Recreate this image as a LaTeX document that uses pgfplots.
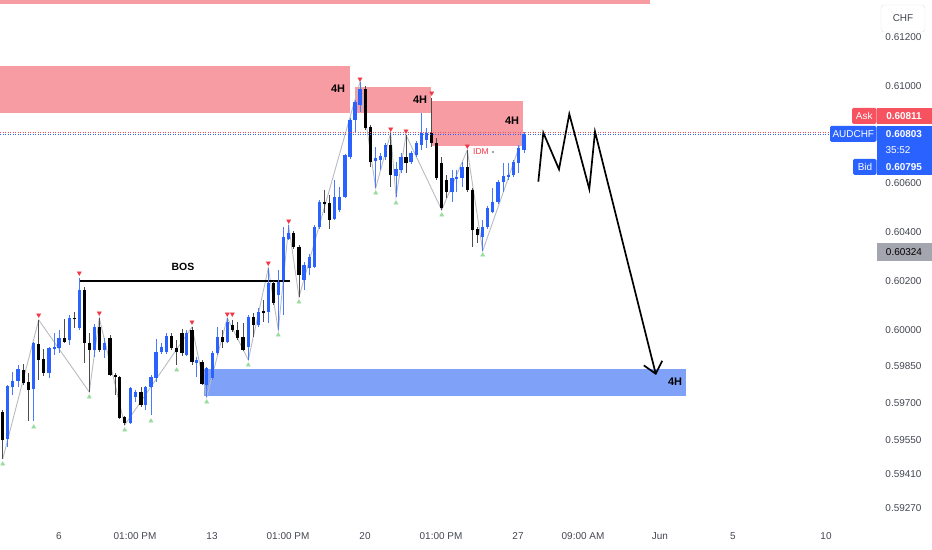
\documentclass[border=0pt]{standalone}
\usepackage{fontspec}
\setmainfont{Liberation Sans}
\usepackage{pgfplots}
\pgfplotsset{compat=1.18}
\usepackage{pgfplotstable}
\usetikzlibrary{arrows.meta}
\definecolor{cblue}{HTML}{2962FF}
\definecolor{cbear}{HTML}{000000}
\definecolor{zonered}{HTML}{F69CA2}
\definecolor{zoneblue}{HTML}{7FA2F8}
\definecolor{askred}{HTML}{F7525F}
\definecolor{grayline}{HTML}{B8BBC2}
\definecolor{mkred}{HTML}{F23645}
\definecolor{mkgreen}{HTML}{9ADB9E}
\definecolor{tickc}{HTML}{434651}
\definecolor{lowgray}{HTML}{A3A6AF}
\definecolor{boxborder}{HTML}{E0E3EB}

\pgfplotstableread{
x o h l c
7.7 0.595527 0.597741 0.595199 0.597700
12.3 0.597659 0.598274 0.597331 0.597905
18.0 0.597905 0.598561 0.597659 0.598397
33.7 0.597577 0.599504 0.596265 0.599463
49.0 0.598233 0.599299 0.598028 0.599258
54.3 0.599217 0.599873 0.598971 0.599299
59.0 0.599258 0.599996 0.599053 0.599668
69.3 0.599586 0.600611 0.599381 0.600488
79.3 0.600078 0.602128 0.599996 0.601636
94.7 0.599176 0.600242 0.598889 0.600119
104.7 0.599176 0.599668 0.598848 0.599463
130.3 0.596183 0.597659 0.596142 0.597618
135.7 0.597249 0.597536 0.597044 0.597454
145.7 0.596921 0.597700 0.596716 0.597659
151.0 0.597659 0.598151 0.596511 0.598069
156.0 0.598028 0.599627 0.597864 0.599094
161.3 0.599094 0.599463 0.599012 0.599299
166.7 0.599094 0.599873 0.599012 0.599750
186.7 0.598971 0.599996 0.598930 0.599873
196.7 0.598643 0.598889 0.598069 0.598766
206.7 0.597741 0.598479 0.597249 0.598438
212.3 0.598028 0.599135 0.597946 0.599053
217.3 0.599053 0.600119 0.598971 0.599709
227.3 0.599504 0.600488 0.599463 0.600324
248.3 0.599299 0.600611 0.598766 0.600529
258.3 0.600201 0.600898 0.600119 0.600734
268.3 0.600734 0.602538 0.600283 0.601923
278.3 0.601431 0.602456 0.599996 0.601964
283.3 0.602046 0.604219 0.600611 0.603809
288.7 0.603727 0.604301 0.603686 0.603973
304.0 0.602046 0.602784 0.601636 0.602661
309.3 0.602538 0.603112 0.602251 0.602989
314.3 0.602579 0.604301 0.602538 0.604219
319.3 0.604219 0.605326 0.604137 0.605244
334.5 0.604547 0.606146 0.604506 0.605449
339.3 0.604916 0.605859 0.604834 0.605449
345.0 0.605449 0.607212 0.605408 0.607171
350.0 0.607089 0.608688 0.607007 0.608606
355.0 0.608606 0.609426 0.608114 0.609344
360.0 0.609221 0.610164 0.608934 0.609877
375.7 0.606925 0.607499 0.605818 0.607048
380.3 0.606966 0.607253 0.606556 0.607130
385.3 0.607089 0.607663 0.606966 0.607581
396.0 0.606310 0.606884 0.605449 0.606597
401.0 0.606556 0.607253 0.606433 0.607089
411.0 0.606884 0.607335 0.606802 0.607253
416.3 0.607171 0.607745 0.607089 0.607663
421.3 0.607581 0.608893 0.607376 0.608073
426.7 0.607786 0.608278 0.607458 0.608073
452.0 0.605654 0.606556 0.605244 0.606228
456.7 0.606187 0.606556 0.605654 0.606269
462.0 0.606228 0.606884 0.605859 0.606679
482.7 0.603809 0.604506 0.603240 0.604219
487.7 0.604219 0.605080 0.604137 0.604998
492.7 0.604834 0.605818 0.604793 0.605244
498.0 0.605244 0.606146 0.605162 0.606064
503.3 0.606064 0.606843 0.605654 0.606310
508.3 0.606269 0.606843 0.606146 0.606351
513.3 0.606351 0.606966 0.606269 0.606884
518.3 0.606843 0.607581 0.606433 0.607458
524.0 0.607376 0.608110 0.607253 0.608030
}\bull

\pgfplotstableread{
x o h l c
2.7 0.596634 0.596716 0.594707 0.595486
23.3 0.598356 0.598602 0.597741 0.597823
28.7 0.597864 0.598233 0.596265 0.597536
38.7 0.599422 0.600406 0.597946 0.598766
43.7 0.598807 0.599217 0.598110 0.598233
64.3 0.599668 0.600447 0.599463 0.599504
74.3 0.600488 0.600734 0.600078 0.600427
84.3 0.601636 0.601759 0.598643 0.599463
89.3 0.599463 0.599873 0.597454 0.599176
99.3 0.600119 0.600488 0.599094 0.599176
110.0 0.599668 0.599791 0.598110 0.598151
115.3 0.598151 0.598233 0.597331 0.598069
119.3 0.598069 0.598110 0.596347 0.596388
124.7 0.596429 0.596470 0.596101 0.596183
141.0 0.597454 0.597659 0.596839 0.596921
171.3 0.599750 0.599873 0.599176 0.599258
176.7 0.599258 0.599586 0.598561 0.599094
182.0 0.599873 0.600037 0.598930 0.599053
192.0 0.599996 0.600119 0.598561 0.598684
202.0 0.598684 0.598766 0.597741 0.597782
222.3 0.599709 0.599996 0.599258 0.599504
232.3 0.600201 0.600406 0.599914 0.599996
237.7 0.599996 0.600324 0.599586 0.599668
243.0 0.599709 0.600283 0.599135 0.599176
253.3 0.600529 0.600693 0.599709 0.600201
263.3 0.600775 0.601226 0.600324 0.600693
273.3 0.601923 0.602005 0.601021 0.601103
293.7 0.603973 0.604055 0.603317 0.603399
299.0 0.603399 0.603481 0.601349 0.602251
324.3 0.605244 0.605736 0.604793 0.605162
329.5 0.605203 0.605531 0.604137 0.604506
365.3 0.609877 0.610000 0.608196 0.608278
370.3 0.608319 0.608401 0.606679 0.606884
390.7 0.607581 0.608073 0.605859 0.606351
406.0 0.607089 0.607991 0.606433 0.606843
431.7 0.608073 0.609508 0.607499 0.607663
436.7 0.607663 0.607868 0.606146 0.606228
441.7 0.606843 0.607089 0.604916 0.604998
446.7 0.606146 0.606351 0.605408 0.605654
467.3 0.606679 0.607376 0.605654 0.605736
472.7 0.605736 0.605818 0.603399 0.604096
477.7 0.604137 0.604219 0.603563 0.603891
}\bear

\pgfplotsset{candle/.style={only marks, mark=*, mark size=0pt,
  mark options={draw=none, fill=none},
  error bars/.cd, y dir=plus, y explicit, error mark=none}}

\begin{document}
\begin{tikzpicture}
\begin{axis}[
  at={(0bp,30bp)}, anchor=south west,
  scale only axis, width=932bp, height=520bp,
  xmin=0, xmax=932, ymin=0.592206, ymax=0.613526,
  axis line style={draw=none}, major tick length=0pt,
  xtick={59,135,212,288,365,441,518,583,660,733,826},
  xticklabels={6,01:00 PM,13,01:00 PM,20,01:00 PM,27,09:00 AM,Jun,5,10},
  xticklabel style={anchor=base, yshift=-19bp},
  ytick={0.5927,0.5941,0.5955,0.597,0.5985,0.6,0.602,0.604,0.606,0.61,0.612},
  yticklabels={0.59270,0.59410,0.59550,0.59700,0.59850,0.60000,0.60200,0.60400,0.60600,0.61000,0.61200},
  yticklabel pos=right, yticklabel style={anchor=east, xshift=-7bp},
  tick label style={font=\fontsize{10}{12}\selectfont, text=tickc},
  scaled y ticks=false,
]
% zones
\addplot[fill=zonered, draw=none] coordinates {(0,0.613362) (650,0.613362) (650,0.6140) (0,0.6140)};
\addplot[fill=zonered, draw=none] coordinates {(0,0.610820) (350,0.610820) (350,0.608893) (0,0.608893)};
\addplot[fill=zonered, draw=none] coordinates {(355,0.609959) (431,0.609959) (431,0.608893) (355,0.608893)};
\addplot[fill=zonered, draw=none] coordinates {(432,0.609385) (523,0.609385) (523,0.607540) (432,0.607540)};
\addplot[fill=zoneblue, draw=none] coordinates {(204,0.598397) (686,0.598397) (686,0.597290) (204,0.597290)};
% swing zigzag
\addplot[grayline, line width=0.9bp] coordinates {(2.7,0.594707) (38.7,0.600406) (89.3,0.597454) (99.3,0.600488) (124.7,0.596101) (192,0.600119) (206.7,0.597249) (227.3,0.600488) (248.3,0.598766) (268.3,0.602538) (278.3,0.599996) (288.7,0.604260) (299,0.601349) (360,0.610164) (375.7,0.605818) (390.7,0.608073) (396,0.605449) (406,0.607991) (441.7,0.604916) (467.3,0.607376) (482.7,0.603240) (524,0.608073)};
% BOS line
\addplot[black, line width=1.6bp] coordinates {(79,0.602005) (290,0.602005)};
% wicks
\addplot[candle, error bar style={line width=1bp, color=cblue!85}] table[x=x, y=l, y error expr=\thisrow{h}-\thisrow{l}] {\bull};
\addplot[candle, error bar style={line width=1bp, color=cbear!70}] table[x=x, y=l, y error expr=\thisrow{h}-\thisrow{l}] {\bear};
% bodies
\addplot[candle, error bar style={line width=3.5bp, color=cblue}] table[x=x, y=o, y error expr=\thisrow{c}-\thisrow{o}] {\bull};
\addplot[candle, error bar style={line width=3.5bp, color=cbear}] table[x=x, y=c, y error expr=\thisrow{o}-\thisrow{c}] {\bear};
% swing markers
\addplot[only marks, color=mkred, mark=triangle*, mark size=2.4bp, mark options={rotate=180, fill=mkred, draw=mkred}] coordinates {(38.7,0.600611) (79.3,0.602333) (99.3,0.600693) (192,0.600324) (227.3,0.600652) (232.3,0.600652) (268.3,0.602743) (288.7,0.604465) (360,0.610287) (390.7,0.608237) (406,0.608155) (431.7,0.609713) (467.3,0.607540)};
\addplot[only marks, color=mkgreen, mark=triangle*, mark size=2.4bp, mark options={fill=mkgreen, draw=mkgreen}] coordinates {(2.7,0.594502) (33.7,0.596019) (89.3,0.597249) (124.7,0.595896) (151,0.596265) (176.7,0.598356) (206.7,0.597044) (248.3,0.598561) (278.3,0.599791) (299,0.601144) (375.7,0.605613) (396,0.605203) (441.7,0.604711) (482.7,0.603071)};
% price lines
\addplot[askred, line width=0.8bp, dash pattern=on 1.2bp off 1.3bp] coordinates {(0,0.60811) (852,0.60811)};
\addplot[cblue, line width=0.8bp, dash pattern=on 1.2bp off 1.3bp] coordinates {(0,0.60803) (830,0.60803)};
% projection
\addplot[black, line width=1.7bp, line join=miter, -{Straight Barb[length=11bp, width=19bp, line width=1.7bp]}] coordinates {(538.3,0.606076) (543.3,0.608085) (559,0.606585) (569.3,0.608852) (589.3,0.605777) (595,0.608126) (656,0.598151)};
% labels
\node[font=\bfseries\fontsize{10.5}{12}\selectfont] at (axis cs:183,0.602579) {BOS};
\node[font=\bfseries\fontsize{11}{12}\selectfont] at (axis cs:338,0.609877) {4H};
\node[font=\bfseries\fontsize{11}{12}\selectfont] at (axis cs:420,0.609426) {4H};
\node[font=\bfseries\fontsize{11}{12}\selectfont] at (axis cs:512,0.608565) {4H};
\node[font=\bfseries\fontsize{11}{12}\selectfont] at (axis cs:675,0.597864) {4H};
\node[font=\fontsize{8.5}{10}\selectfont, text=mkred] at (axis cs:481,0.607294) {IDM};
\fill[tickc] (axis cs:493,0.607294) circle (0.9bp);
\end{axis}
\begin{scope}[shift={(0bp,550bp)}, x=1bp, y=-1bp, font=\fontsize{10}{12}\selectfont]
  \draw[boxborder, fill=white, rounded corners=3bp] (881,5) rectangle (925,32);
  \node[text=tickc] at (903,18.5) {CHF};
  \fill[askred, rounded corners=1.5bp] (852,108) rectangle (876.5,124);
  \fill[askred] (877,108) rectangle (932,124);
  \node[white] at (864.3,116) {Ask};
  \node[white, font=\bfseries\fontsize{10}{12}\selectfont] at (904,116) {0.60811};
  \fill[cblue, rounded corners=1.5bp] (830,126) rectangle (876.5,142);
  \node[white] at (853.3,134) {AUDCHF};
  \fill[cblue] (877,126) rectangle (932,175);
  \node[white, font=\bfseries\fontsize{10}{12}\selectfont] at (904,134) {0.60803};
  \node[white, anchor=west] at (882,150) {35:52};
  \fill[cblue, rounded corners=1.5bp] (853,159) rectangle (876.5,175);
  \node[white] at (865,167) {Bid};
  \node[white, font=\bfseries\fontsize{10}{12}\selectfont] at (904,167) {0.60795};
  \fill[lowgray] (877,243) rectangle (932,261);
  \node[text=black] at (904,252) {0.60324};
\end{scope}
\pgfresetboundingbox
\useasboundingbox (0,0) rectangle (932bp,550bp);
\end{tikzpicture}
\end{document}
